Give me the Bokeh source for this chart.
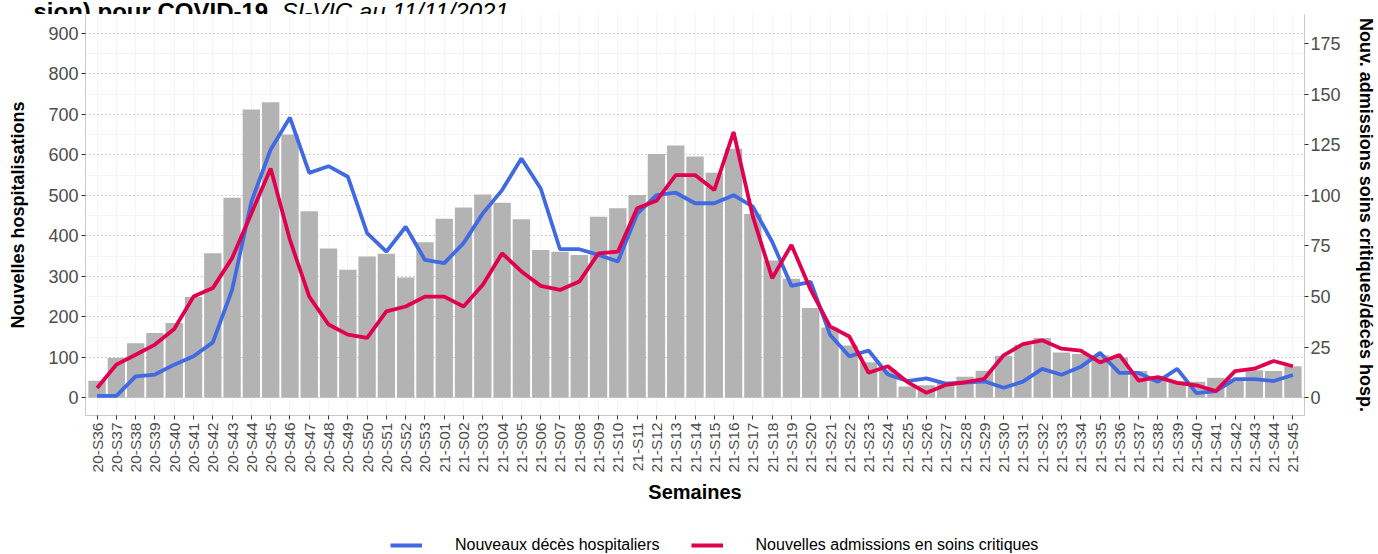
import math
from bokeh.plotting import figure
from bokeh.layouts import column
from bokeh.models import (FactorRange, Range1d, LinearAxis, FixedTicker, Legend,
                          LegendItem, Label, ColumnDataSource)
from bokeh.embed import file_html
from bokeh.resources import INLINE

# ---------------- data ----------------
weeks = [f"20-S{w}" for w in range(36, 54)] + [f"21-S{w:02d}" for w in range(1, 46)]

hospitalisations = [
    42, 99, 135, 160, 185, 249, 357, 494, 712, 730,
    650, 461, 369, 316, 349, 356, 297, 384, 442, 470,
    502, 482, 441, 365, 361, 353, 447, 468, 501, 602,
    623, 596, 556, 615, 454, 339, 294, 222, 174, 129,
    88, 70, 28, 31, 40, 52, 67, 104, 131, 148,
    112, 108, 105, 100, 66, 54, 41, 40, 49, 47,
    68, 66, 78,
]

deces_hosp = [
    1, 1, 10.6, 11.5, 16.4, 20.5, 27.4, 53.3, 96.8, 122.7,
    138.4, 111.1, 114.4, 109.2, 81.3, 72.2, 84.5, 68.1, 66.5, 76.4,
    91.1, 102.6, 118.2, 103.4, 73.4, 73.4, 70.6, 67.3, 90.8, 100.1,
    101.3, 96.1, 96.1, 100.1, 94.4, 77.1, 55.3, 57.3, 31.2, 20.5,
    23.4, 11.5, 8.3, 9.6, 7, 7.5, 8.2, 5, 8, 14.3,
    11.4, 15.3, 22.2, 12.3, 12.3, 8, 14.3, 2.3, 3.3, 9.2,
    9.2, 8.3, 11.3,
]

soins_critiques = [
    4.9, 16.4, 21.3, 26.3, 34, 50, 54.2, 69, 91.1, 113.3,
    78, 50, 36.2, 31.2, 29.6, 42.7, 45.1, 50, 50, 45.1,
    55.8, 71.4, 62.4, 55.3, 53.3, 57.4, 71.4, 72.2, 93.6, 97.3,
    110, 110, 102.6, 131.3, 89.5, 59.1, 75.5, 53.3, 35.3, 30.3,
    12.4, 15.6, 7.9, 2.5, 6.4, 7.7, 9.4, 21, 26.5, 28.4,
    24.3, 23.3, 17.5, 21.2, 8.5, 10.2, 7.4, 6.2, 3.3, 13.2,
    14.4, 18.2, 15.6,
]

left_ticks = [0, 100, 200, 300, 400, 500, 600, 700, 800, 900]
right_ticks = [0, 25, 50, 75, 100, 125, 150, 175]

series_labels = ["Nouveaux décès hospitaliers", "Nouvelles admissions en soins critiques"]
title_bold = "sion) pour COVID-19,"
title_italic = "SI-VIC au 11/11/2021."

# ---------------- styling constants ----------------
FONT = "Liberation Sans"
Y_MIN, Y_MAX = -43.6, 946.6
RATIO = 5.0
BAR = "#B3B3B3"
BLUE = "#4169E1"
RED = "#E0004F"
TICK_TXT = "#4D4D4D"
LW = 3.8
W = 1378


def bare_figure(h):
    f = figure(width=W, height=h, x_range=Range1d(0, W), y_range=Range1d(0, h),
               output_backend="svg", toolbar_location=None,
               x_axis_location=None, y_axis_location=None,
               min_border=0, outline_line_color=None, frame_align=False,
               background_fill_color="white", border_fill_color="white")
    f.grid.visible = False
    return f


# ---------------- title strip (cropped at the top, as in the source) ----------------
pt = bare_figure(14)
pt.add_layout(Label(x=33, y=3.3, x_units="screen", y_units="screen",
                    text=title_bold, text_font=FONT, text_font_size="24px",
                    text_font_style="bold", text_color="black",
                    text_baseline="alphabetic"))
pt.add_layout(Label(x=281, y=3.3, x_units="screen", y_units="screen",
                    text=title_italic, text_font=FONT, text_font_size="24px",
                    text_font_style="italic", text_color="black",
                    text_baseline="alphabetic"))

# ---------------- main chart ----------------
src = ColumnDataSource(dict(week=weeks, hosp=hospitalisations,
                            deces=deces_hosp, sc=soins_critiques))

p = figure(width=W, height=492,
           x_range=FactorRange(factors=weeks, range_padding=0.2 / len(weeks)),
           y_range=Range1d(Y_MIN, Y_MAX),
           output_backend="svg", toolbar_location=None,
           min_border_left=85, min_border_right=68,
           min_border_top=0, min_border_bottom=90, frame_align=False,
           background_fill_color="white", border_fill_color="white",
           outline_line_color=None)
p.extra_y_ranges = {"right": Range1d(Y_MIN / RATIO, Y_MAX / RATIO)}

p.vbar(x="week", top="hosp", width=0.9, source=src,
       fill_color=BAR, line_color=None)
p.line("week", "deces", source=src, y_range_name="right",
       line_color=BLUE, line_width=LW)
p.line("week", "sc", source=src, y_range_name="right",
       line_color=RED, line_width=LW)

# grids
p.ygrid.ticker = FixedTicker(ticks=left_ticks, minor_ticks=[t + 50 for t in left_ticks])
p.ygrid.grid_line_color = "#9A9A9A"
p.ygrid.grid_line_dash = "1 3"
p.ygrid.grid_line_width = 1.2
p.ygrid.minor_grid_line_color = "#F1F1F1"
p.ygrid.minor_grid_line_width = 0.8
p.xgrid.grid_line_color = "#F1F1F1"
p.xgrid.grid_line_width = 0.8


def style_axis(ax):
    ax.axis_line_color = "#C8C8C8"
    ax.axis_line_width = 1
    ax.major_tick_line_color = "#333333"
    ax.major_tick_out = 4
    ax.major_tick_in = 0
    ax.minor_tick_line_color = None
    ax.major_label_text_font = FONT
    ax.major_label_text_color = TICK_TXT
    ax.axis_label_text_font = FONT
    ax.axis_label_text_font_style = "bold"
    ax.axis_label_text_color = "black"


ly = p.yaxis[0]
style_axis(ly)
ly.ticker = FixedTicker(ticks=left_ticks)
ly.major_label_text_font_size = "18px"
ly.major_label_standoff = 3
ly.axis_label = "Nouvelles hospitalisations"
ly.axis_label_text_font_size = "18px"
ly.axis_label_standoff = 17

ry = LinearAxis(y_range_name="right", ticker=FixedTicker(ticks=right_ticks),
                axis_label="Nouv. admissions soins critiques/décès hosp.")
style_axis(ry)
ry.major_label_text_font_size = "18px"
ry.major_label_standoff = 2
ry.axis_label_text_font_size = "18px"
ry.axis_label_standoff = 12
p.add_layout(ry, "right")

xa = p.xaxis[0]
style_axis(xa)
xa.major_label_orientation = math.pi / 2
xa.major_label_text_font_size = "15.5px"
xa.major_label_standoff = 3
xa.axis_label = "Semaines"
xa.axis_label_text_font_size = "20px"
xa.axis_label_standoff = 6

# ---------------- legend strip ----------------
pl = bare_figure(48)
nan = float("nan")
k_deces = pl.line(x=[nan], y=[nan], line_color=BLUE, line_width=LW)
k_sc = pl.line(x=[nan], y=[nan], line_color=RED, line_width=LW)
legend = Legend(items=[LegendItem(label=series_labels[0], renderers=[k_deces]),
                       LegendItem(label=series_labels[1], renderers=[k_sc])],
                location=(390, 0), orientation="horizontal",
                glyph_width=32, glyph_height=16, label_standoff=33, spacing=31,
                padding=0, margin=0, border_line_color=None,
                background_fill_alpha=0,
                label_text_font=FONT, label_text_font_size="16px",
                label_text_color="black")
pl.add_layout(legend)

layout = column(pt, p, pl, spacing=0)
open("out.html", "w").write(file_html(layout, INLINE))
